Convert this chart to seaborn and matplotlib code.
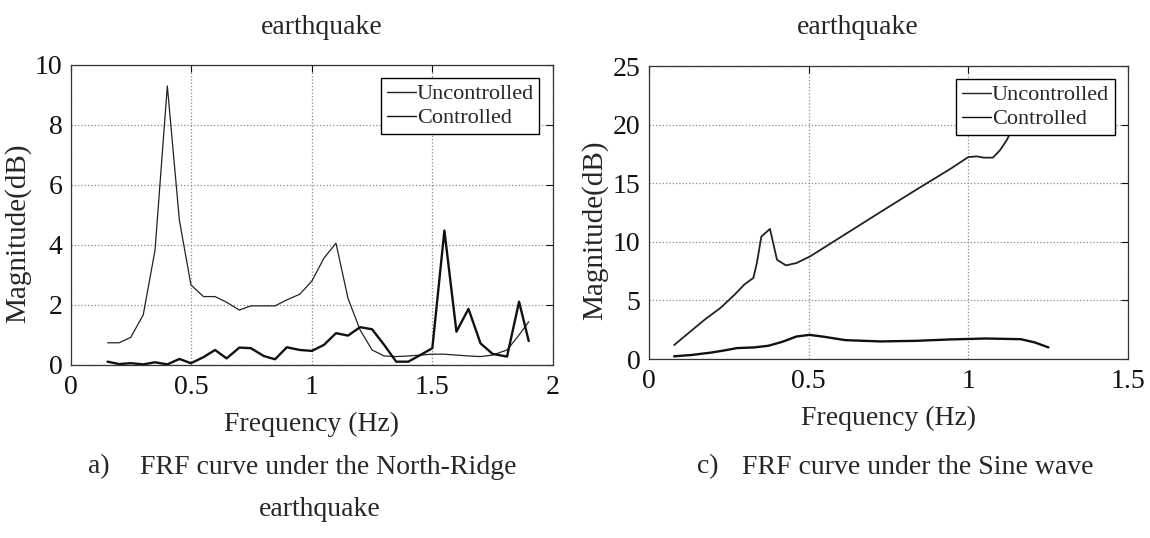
import numpy as np
import pandas as pd
import matplotlib
matplotlib.use("Agg")
import matplotlib.pyplot as plt
import seaborn as sns

# === Data ===
# a) North-Ridge earthquake
nr_freq = [0.152, 0.20, 0.248, 0.30, 0.349, 0.40, 0.45, 0.498, 0.55, 0.598,
           0.646, 0.699, 0.747, 0.80, 0.847, 0.896, 0.95, 1.00, 1.05, 1.10,
           1.15, 1.20, 1.25, 1.30, 1.35, 1.40, 1.45, 1.50, 1.55, 1.60,
           1.65, 1.70, 1.75, 1.81, 1.86, 1.90]
nr_unc = [0.74, 0.74, 0.92, 1.67, 3.83, 9.30, 4.83, 2.67, 2.28, 2.28,
          2.09, 1.83, 1.97, 1.97, 1.97, 2.17, 2.36, 2.80, 3.56, 4.06,
          2.22, 1.17, 0.50, 0.30, 0.28, 0.30, 0.33, 0.36, 0.36, 0.33,
          0.30, 0.28, 0.33, 0.50, 1.00, 1.44]
nr_ctl = [0.11, 0.03, 0.06, 0.02, 0.09, 0.02, 0.20, 0.06, 0.26, 0.50,
          0.22, 0.58, 0.56, 0.30, 0.19, 0.59, 0.50, 0.47, 0.67, 1.06,
          0.98, 1.26, 1.19, 0.67, 0.11, 0.11, 0.33, 0.56, 4.48, 1.11,
          1.87, 0.72, 0.37, 0.28, 2.11, 0.80]

# c) Sine wave
sw_freq_unc = [0.079, 0.132, 0.176, 0.225, 0.269, 0.299, 0.327, 0.338, 0.352, 0.379,
               0.401, 0.429, 0.462, 0.505, 0.615, 0.725, 0.835, 0.945, 1.000, 1.027,
               1.049, 1.077, 1.099, 1.121, 1.15]
sw_unc = [1.19, 2.40, 3.39, 4.38, 5.51, 6.36, 6.92, 8.19, 10.45, 11.10,
          8.47, 7.99, 8.19, 8.76, 10.65, 12.54, 14.41, 16.24, 17.23, 17.29,
          17.18, 17.18, 17.80, 18.70, 20.30]
sw_freq_ctl = [0.079, 0.132, 0.198, 0.242, 0.275, 0.330, 0.374, 0.418, 0.462, 0.503,
               0.550, 0.615, 0.725, 0.835, 0.945, 1.055, 1.165, 1.209, 1.251]
sw_ctl = [0.23, 0.34, 0.56, 0.76, 0.93, 0.99, 1.13, 1.47, 1.92, 2.06,
          1.89, 1.61, 1.50, 1.55, 1.67, 1.75, 1.69, 1.41, 0.99]

sns.set_style("white")
plt.rcParams['font.family'] = ['Liberation Serif', 'DejaVu Serif']

fig = plt.figure(figsize=(11.5, 5.38), dpi=100)
ax1 = fig.add_axes([0.0617, 0.3216, 0.419, 0.5576])
ax2 = fig.add_axes([0.5643, 0.3327, 0.4165, 0.5446])


def style_axes(ax, xticks, yticks, xlim, ylim, ylab_x):
    ax.set_xlim(*xlim)
    ax.set_ylim(*ylim)
    ax.set_xticks(xticks)
    ax.set_yticks(yticks)
    ax.set_xticklabels([f"{t:g}" for t in xticks])
    ax.set_yticklabels([f"{t:g}" for t in yticks])
    ax.grid(True, linestyle=':', color='#8a8a8a', linewidth=0.9)
    ax.tick_params(direction='in', length=5, width=0.8, labelsize=20,
                   top=True, right=True, pad=7, colors='#111111')
    ax.tick_params(axis='y', pad=6)
    for s in ax.spines.values():
        s.set_color('#333333')
        s.set_linewidth(0.9)
    ax.set_xlabel("Frequency (Hz)", fontsize=20, labelpad=9)
    ax.set_ylabel("Magnitude(dB)", fontsize=21)
    ax.yaxis.set_label_coords(ylab_x, 0.44)


# --- a) North-Ridge ---
nr_df = pd.DataFrame({'freq': nr_freq, 'Uncontrolled': nr_unc, 'Controlled': nr_ctl})
sns.lineplot(data=nr_df, x='freq', y='Uncontrolled', ax=ax1, color='#222222',
             linewidth=0.9, label='Uncontrolled', estimator=None)
sns.lineplot(data=nr_df, x='freq', y='Controlled', ax=ax1, color='#111111',
             linewidth=1.7, label='Controlled', estimator=None)
style_axes(ax1, [0, 0.5, 1, 1.5, 2], [0, 2, 4, 6, 8, 10], (0, 2), (0, 10), -0.083)

# --- c) Sine wave ---
sw_unc_df = pd.DataFrame({'freq': sw_freq_unc, 'mag': sw_unc})
sw_ctl_df = pd.DataFrame({'freq': sw_freq_ctl, 'mag': sw_ctl})
sns.lineplot(data=sw_unc_df, x='freq', y='mag', ax=ax2, color='#222222',
             linewidth=1.3, label='Uncontrolled', estimator=None)
sns.lineplot(data=sw_ctl_df, x='freq', y='mag', ax=ax2, color='#111111',
             linewidth=1.7, label='Controlled', estimator=None)
style_axes(ax2, [0, 0.5, 1, 1.5], [0, 5, 10, 15, 20, 25], (0, 1.5), (0, 25), -0.086)

for ax in (ax1, ax2):
    leg = ax.legend(loc='upper right', fontsize=16, frameon=True, fancybox=False,
                    handlelength=1.3, handletextpad=0.05, borderpad=0.25,
                    labelspacing=0.15, borderaxespad=0.6)
    leg.get_frame().set_edgecolor('black')
    leg.get_frame().set_linewidth(1.0)
    leg.get_frame().set_alpha(1.0)
    for line in leg.get_lines():
        line.set_linewidth(1.0)

# captions
fig.text(322 / 1150, 1 - 28 / 538, "earthquake", fontsize=20, ha='center', va='center')
fig.text(858 / 1150, 1 - 28 / 538, "earthquake", fontsize=20, ha='center', va='center')
fig.text(88 / 1150, 1 - 467 / 538, "a)", fontsize=20, ha='left', va='center')
fig.text(140 / 1150, 1 - 467 / 538, "FRF curve under the North-Ridge", fontsize=20,
         ha='left', va='center')
fig.text(320 / 1150, 1 - 510 / 538, "earthquake", fontsize=20, ha='center', va='center')
fig.text(697 / 1150, 1 - 467 / 538, "c)", fontsize=20, ha='left', va='center')
fig.text(742 / 1150, 1 - 467 / 538, "FRF curve under the Sine wave", fontsize=20,
         ha='left', va='center')

fig.savefig("out.png", dpi=100, facecolor='white')
